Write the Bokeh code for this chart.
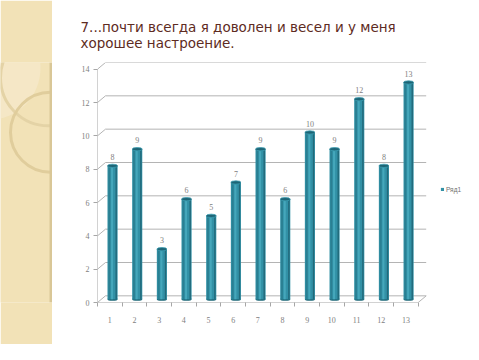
from bokeh.plotting import figure
from bokeh.layouts import row
from bokeh.models import Range1d, FixedTicker, ColumnDataSource, Legend, LegendItem, Title
from bokeh.embed import file_html
from bokeh.resources import INLINE
from bokeh.core.properties import value

# ---- data ----
categories = list(range(1, 14))
values = [8, 9, 3, 6, 5, 7, 9, 6, 10, 9, 12, 8, 13]
y_ticks = [0, 2, 4, 6, 8, 10, 12, 14]
series_name = "Ряд1"
title_text = "7...почти всегда я доволен и весел и у меня\nхорошее настроение."

# ---- style constants ----
DEPTH_X = 0.324   # 3D depth offset (category units)
DEPTH_Y = 0.4     # 3D depth offset (value units)
BAR_SHIFT = 0.11
BAR_W = 0.41
GRID_C = "#b4b4b4"
AXIS_C = "#a6a6a6"
TEAL = "#3291a6"

STRIP_W = 52
TOTAL_W = 463
TOTAL_H = 344
FRAME_LEFT = 45
UNIT_PX = 24.67

# ---- decorative left strip ----
strip = figure(width=STRIP_W, height=TOTAL_H, output_backend="svg", toolbar_location=None,
               x_range=Range1d(0, STRIP_W), y_range=Range1d(TOTAL_H, 0), min_border=0)
strip.axis.visible = False
strip.grid.visible = False
strip.outline_line_color = None
strip.background_fill_color = "#f2e2b7"
strip.border_fill_color = "#f2e2b7"
strip.circle(x=[-12], y=[8], radius=52, fill_color="#f6ebd0", fill_alpha=0.6, line_color=None)
strip.circle(x=[48], y=[22], radius=48, fill_color=None, line_color="#e4d3a6", line_width=3)
strip.circle(x=[50], y=[100], radius=40, fill_color=None, line_color="#e0cd9c", line_width=3)
strip.vbar(x=[STRIP_W - 1.5], width=3, top=[0], bottom=[TOTAL_H], fill_color="#d9c797", line_color=None)

# ---- main chart ----
main_w = TOTAL_W - STRIP_W
x_end = 0.5 + (main_w - FRAME_LEFT) / UNIT_PX
p = figure(width=main_w, height=TOTAL_H, output_backend="svg", toolbar_location=None,
           x_range=Range1d(0.5, x_end), y_range=Range1d(0, 14 + DEPTH_Y),
           min_border_left=FRAME_LEFT, min_border_right=0, min_border_top=62, min_border_bottom=42)
p.outline_line_color = None
p.grid.visible = False
p.background_fill_color = "white"

p.title = Title(text=title_text, text_font="DejaVu Sans", text_font_size="13.5px",
                text_color="#5e2b22", text_font_style="normal", align="left", offset=-17,
                standoff=24)

# gridlines (back wall) with slanted connectors
x_left = 0.5
x_right = max(categories) + 0.5 + DEPTH_X
p.segment(x0=[x_left] * len(y_ticks), y0=y_ticks,
          x1=[x_left + DEPTH_X] * len(y_ticks), y1=[v + DEPTH_Y for v in y_ticks],
          line_color=GRID_C, line_width=1)
p.segment(x0=[x_left + DEPTH_X] * len(y_ticks), y0=[v + DEPTH_Y for v in y_ticks],
          x1=[x_right] * len(y_ticks), y1=[v + DEPTH_Y for v in y_ticks],
          line_color=GRID_C, line_width=1)
# floor right edge
p.segment(x0=[max(categories) + 0.5], y0=[0], x1=[x_right], y1=[DEPTH_Y],
          line_color=GRID_C, line_width=1)
# front axis lines
p.segment(x0=[x_left], y0=[0], x1=[max(categories) + 0.5], y1=[0], line_color=AXIS_C, line_width=1)
p.segment(x0=[x_left], y0=[0], x1=[x_left], y1=[max(y_ticks)], line_color=AXIS_C, line_width=1)

# cylinders
bx = [c + BAR_SHIFT for c in categories]
base = DEPTH_Y / 2
tops = [v + base for v in values]
src = ColumnDataSource(dict(x=bx, top=tops, bottom=[base] * len(values), v=values,
                            lx=bx, ly=[t + 0.35 for t in tops], lt=[str(v) for v in values]))
p.ellipse(x="x", y="bottom", width=BAR_W, height=0.2, source=src,
          fill_color="#1f6a7a", line_color=None)
bars = p.vbar(x="x", top="top", bottom="bottom", width=BAR_W, source=src,
              fill_color=TEAL, line_color=None)
p.vbar(x=[x - BAR_W * 0.32 for x in bx], top=tops, bottom=[base] * len(values), width=BAR_W * 0.18,
       fill_color="#2a7f92", line_color=None)
p.vbar(x=[x + BAR_W * 0.36 for x in bx], top=tops, bottom=[base] * len(values), width=BAR_W * 0.14,
       fill_color="#22697a", line_color=None)
p.vbar(x=[x - BAR_W * 0.05 for x in bx], top=tops, bottom=[base] * len(values), width=BAR_W * 0.2,
       fill_color="#45a7bb", line_color=None)
p.ellipse(x="x", y="top", width=BAR_W, height=0.2, source=src,
          fill_color="#1e6576", line_color="#3a9cb0", line_width=0.8)

p.text(x="lx", y="ly", text="lt", source=src, text_align="center", text_baseline="bottom",
       text_font=value("Liberation Serif"), text_font_size="8px", text_color="#808080")

# axes
p.xaxis.ticker = FixedTicker(ticks=categories, minor_ticks=[c - 0.5 for c in categories] + [max(categories) + 0.5])
p.xaxis.axis_line_color = None
p.xaxis.major_tick_line_color = None
p.xaxis.minor_tick_line_color = AXIS_C
p.xaxis.minor_tick_out = 4
p.xaxis.minor_tick_in = 0
p.xaxis.major_label_text_font = "Liberation Serif"
p.xaxis.major_label_text_font_size = "8px"
p.xaxis.major_label_text_color = "#808080"
p.xaxis.major_label_standoff = 8

p.yaxis.ticker = FixedTicker(ticks=y_ticks, minor_ticks=[])
p.yaxis.axis_line_color = None
p.yaxis.major_tick_line_color = AXIS_C
p.yaxis.major_tick_out = 4
p.yaxis.major_tick_in = 0
p.yaxis.major_label_text_font = "Liberation Serif"
p.yaxis.major_label_text_font_size = "8px"
p.yaxis.major_label_text_color = "#808080"
p.yaxis.major_label_standoff = 4

legend = Legend(items=[LegendItem(label=series_name, renderers=[bars])], location=(343, 109),
                label_text_font="Liberation Sans", label_text_font_size="6.5px", label_text_color="#707070",
                glyph_width=4, glyph_height=4, label_standoff=2, padding=0, margin=0,
                border_line_color=None, background_fill_alpha=0, spacing=0, label_height=8)
p.add_layout(legend, "center")

layout = row(strip, p, spacing=0)
open("out.html", "w").write(file_html(layout, INLINE))
